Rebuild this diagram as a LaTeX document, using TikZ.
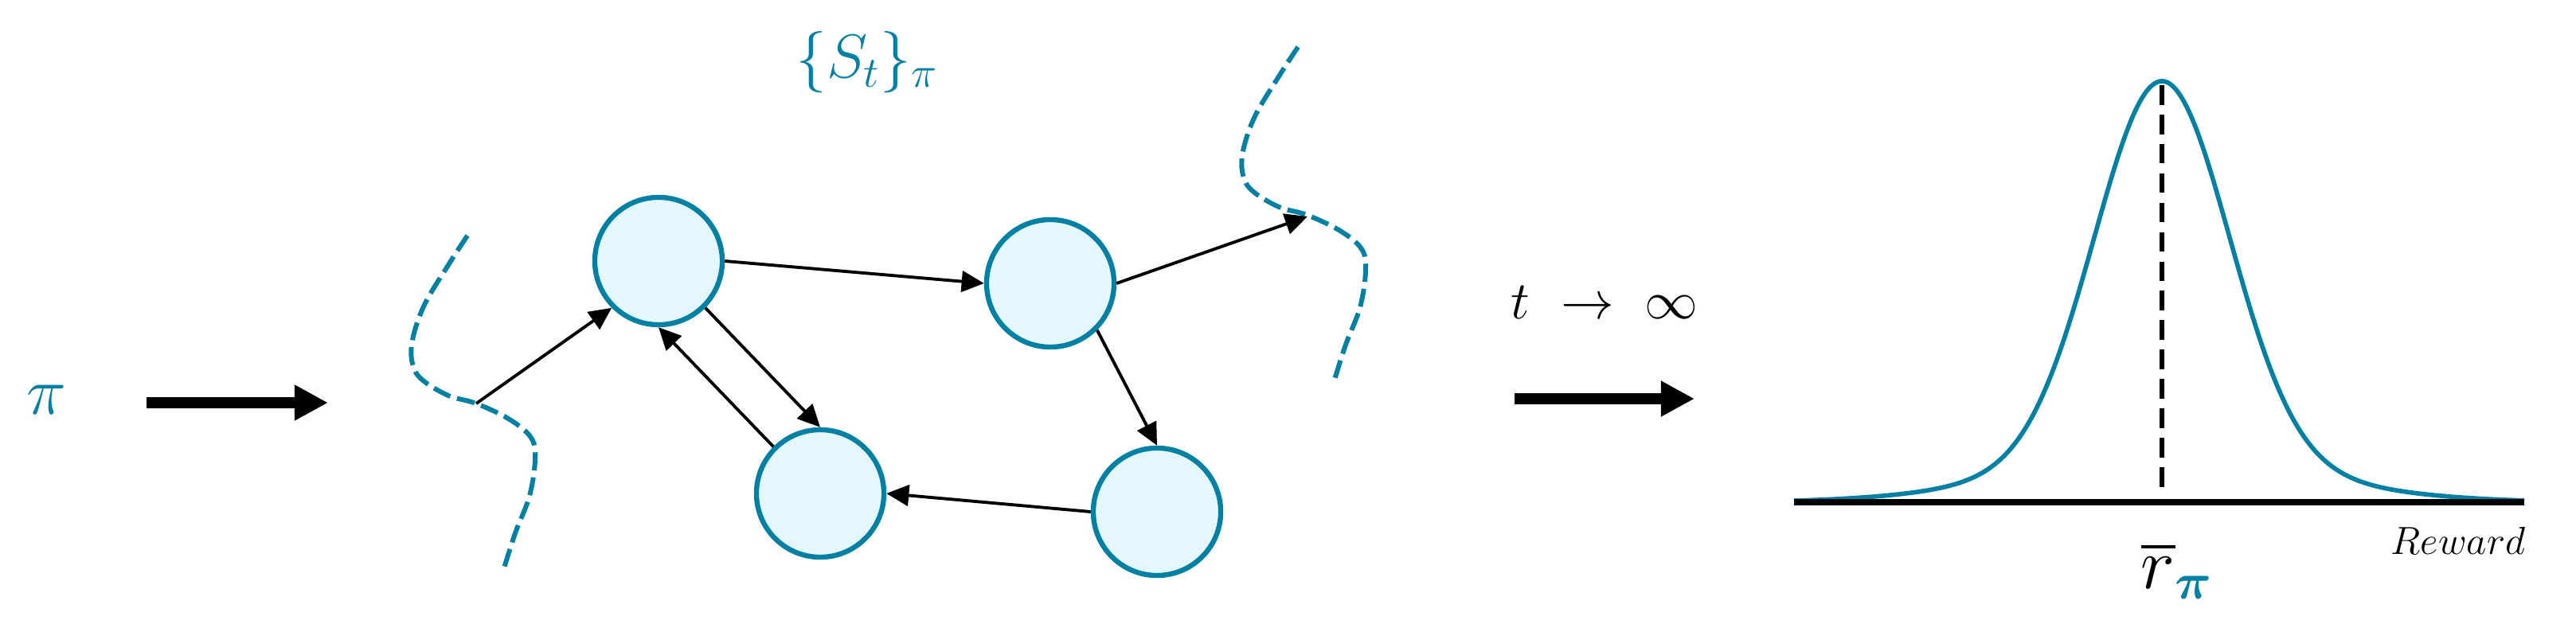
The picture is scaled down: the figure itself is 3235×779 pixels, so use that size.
\RequirePackage{fix-cm}
\documentclass[tikz,border=0pt]{standalone}
\usepackage{amsmath,amssymb}
\usepackage{xcolor}
\usepackage{tikz}
\usetikzlibrary{arrows.meta}
\definecolor{polblue}{HTML}{0080A3}
\definecolor{statefill}{HTML}{E3F7FD}
\tikzset{
  state/.style={circle, draw=polblue, line width=1.8pt, fill=statefill, minimum size=1.6cm, inner sep=0pt},
  trans/.style={line width=1.1pt, -{Triangle[length=8pt, width=7.5pt]}},
  bigarrow/.style={line width=3.8pt, -{Triangle[length=12pt, width=12pt]}},
  traj/.style={draw=polblue, line width=1.7pt, dash pattern=on 6.5pt off 2.5pt},
  density/.style={draw=polblue, line width=1.6pt},
  meanline/.style={line width=1.6pt, dash pattern=on 7pt off 3.5pt},
  axisline/.style={line width=2pt},
  lab/.style={inner sep=0pt}
}

\begin{document}
\begin{tikzpicture}[x=0.01cm, y=-0.01cm]
  \useasboundingbox (0,0) rectangle (3235,779);

  % Policy and first arrow
  \node[lab, text=polblue, font=\fontsize{24}{28}\selectfont] (pol) at (58,502) {$\pi$};
  \coordinate (a1s) at (184,506);
  \coordinate (a1e) at (412,506);
  \draw[bigarrow] (a1s) -- (a1e);

  % Trajectory (dashed) curves, same shape twice
  \draw[traj] plot[smooth, tension=0.6] coordinates {(587,296) (563,333) (533,383) (518,427) (518,457) (530,477) (563,497) (598,507) (640,527) (667,550) (672,577) (665,623) (647,670) (632,717)};
  \begin{scope}[shift={(1043,-237)}]
    \draw[traj] plot[smooth, tension=0.6] coordinates {(587,296) (563,333) (533,383) (518,427) (518,457) (530,477) (563,497) (598,507) (640,527) (667,550) (672,577) (665,623) (647,670) (632,717)};
  \end{scope}
  \coordinate (c1) at (598,507);
  \coordinate (c2) at (1642,272);

  \node[lab, text=polblue, font=\fontsize{22}{26}\selectfont, anchor=base] (seq) at (1089,98) {$\{S_t\}_\pi$};

  % States
  \node[state] (n1) at (827,328) {};
  \node[state] (n2) at (1319,356) {};
  \node[state] (n3) at (1030,620) {};
  \node[state] (n4) at (1453,643) {};

  % Transitions
  \draw[trans] (c1) -- (n1.225);
  \draw[trans] (n1.east) -- (n2.west);
  \draw[trans] (n1.-45) -- (n3.north);
  \draw[trans] (n3.135) -- (n1.south);
  \draw[trans] (n2.-45) -- (n4.north);
  \draw[trans] (n4.west) -- (n3.east);
  \draw[trans] (n2.east) -- (c2);

  % Limit arrow
  \node[lab, font=\fontsize{19}{23}\selectfont, anchor=base] (lim) at (2015,400) {$t\ \to\ \infty$};
  \coordinate (a2s) at (1902,501);
  \coordinate (a2e) at (2128,501);
  \draw[bigarrow] (a2s) -- (a2e);

  % Reward distribution
  \draw[density] plot[domain=2253:3170, samples=200, smooth]
    (\x, {631 - 529*(0.9*exp(-0.5*pow((\x-2715)/84,2)) + 0.1*exp(-0.5*pow((\x-2715)/180,2)))});
  \coordinate (peak) at (2715,107);
  \coordinate (foot) at (2715,618);
  \draw[meanline] (peak) -- (foot);
  \coordinate (ax0) at (2253,631);
  \coordinate (ax1) at (3170,631);
  \draw[axisline] (ax0) -- (ax1);

  \node[lab, font=\fontsize{14}{17}\selectfont, anchor=base east] (rew) at (3172,696) {$Reward$};
  \node[lab, font=\fontsize{26}{30}\selectfont, anchor=base west] (mean) at (2688,739) {$\overline{r}_{\textcolor{polblue}{\boldsymbol{\pi}}}$};
\end{tikzpicture}
\end{document}
